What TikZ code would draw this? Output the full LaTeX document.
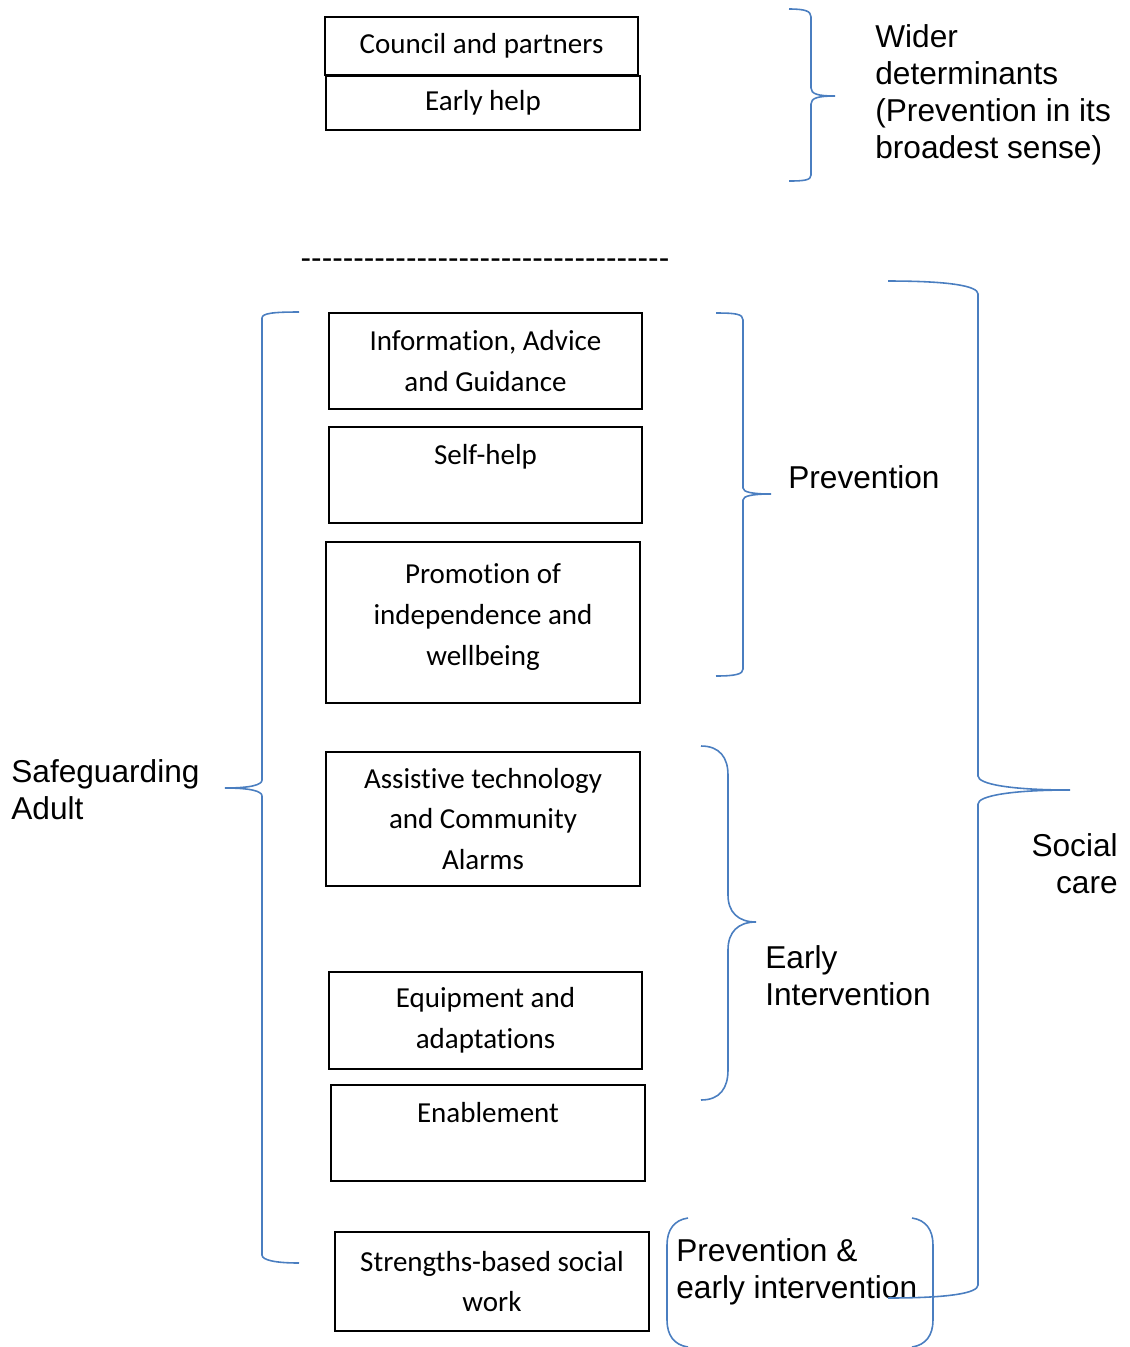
\documentclass[tikz,border=0pt]{standalone}
\usepackage{fontspec}
\setmainfont{Carlito}[Ligatures=NoCommon]
\newfontfamily\arialfont{Liberation Sans}
\usetikzlibrary{positioning}
\definecolor{braceblue}{HTML}{4A7EC0}

\begin{document}
\begin{tikzpicture}[x=0.02cm,y=-0.02cm,
    box/.style={draw=black,line width=1.1pt,align=center,inner sep=0pt,
        font=\fontsize{16.5}{23.2}\selectfont},
    lbl/.style={align=left,inner sep=0pt,font=\arialfont\fontsize{18}{21}\selectfont},
    brace/.style={draw=braceblue,line width=0.9pt}]
                \useasboundingbox (0,0) rectangle (1130,1347);
                % top boxes
                \node[box,minimum width=6.26cm,minimum height=1.16cm] (council) at (481.5,46) {Council and partners};
                \node[box,minimum width=6.28cm,minimum height=1.08cm,below=-0.02cm of council,xshift=0.03cm] (earlyhelp) {Early help};
                \node[lbl,anchor=west] (wider) at (875,95) {Wider\\determinants\\(Prevention in its\\broadest sense)};
                \node[inner sep=0pt,font=\arialfont\fontsize{18}{21}\selectfont] (dashes) at (485,264) {-----------------------------------};
                % main stack
                \node[box,minimum width=6.26cm,minimum height=1.92cm] (iag) at (485.5,361) {Information, Advice\\and Guidance};
                \node[box,minimum width=6.26cm,minimum height=1.92cm] (selfhelp) at (485.5,475) {Self-help\\~};
                \node[box,minimum width=6.28cm,minimum height=3.22cm] (promo) at (483,622.5) {Promotion of\\independence and\\wellbeing\\[-0.5cm]~};
                \node[box,minimum width=6.28cm,minimum height=2.68cm] (assist) at (483,819) {Assistive technology\\and Community\\Alarms};
                \node[box,minimum width=6.26cm,minimum height=1.94cm] (equip) at (485.5,1020.5) {Equipment and\\adaptations};
                \node[box,minimum width=6.28cm,minimum height=1.92cm] (enable) at (488,1133) {Enablement\\~};
                \node[box,minimum width=6.28cm,minimum height=1.98cm] (strengths) at (492,1281.5) {Strengths-based social\\work};
                % labels
                \node[lbl,anchor=west] (prev) at (788,477) {Prevention};
                \node[lbl,anchor=west] (early) at (765,976) {Early\\Intervention};
                \node[lbl,anchor=east,align=right] (social) at (1118,864) {Social\\care};
                \node[lbl,anchor=west] (safe) at (11,790) {Safeguarding\\Adult};
                \node[lbl,anchor=west] (prevearly) at (676,1272) {Prevention \&\\early intervention};
                % braces
                \draw[brace] (789,9) .. controls (805,9) and (811,11) .. (811,17) -- (811,88)
                    .. controls (811,94) and (818,96) .. (835,96) .. controls (818,96) and (811,98) .. (811,104)
                    -- (811,175) .. controls (811,180) and (805,181) .. (789,181);
                \draw[brace] (716,313) .. controls (736,313) and (743,314) .. (743,320) -- (743,488)
                    .. controls (743,492) and (752,494) .. (771,494) .. controls (752,494) and (743,496) .. (743,500)
                    -- (743,669) .. controls (743,674) and (736,676) .. (716,676);
                \draw[brace] (701,746) .. controls (720,746) and (728,758) .. (728,775) -- (728,895)
                    .. controls (728,912) and (738,922) .. (756,922) .. controls (738,922) and (728,932) .. (728,950)
                    -- (728,1070) .. controls (728,1088) and (720,1100) .. (701,1100);
                \draw[brace] (888,281) .. controls (950,281) and (978,286) .. (978,294) -- (978,776)
                    .. controls (978,784) and (1010,790) .. (1070,790) .. controls (1010,790) and (978,796) .. (978,804)
                    -- (978,1285) .. controls (978,1293) and (950,1298) .. (888,1298);
                \draw[brace] (299,312) .. controls (275,312) and (262,313) .. (262,318) -- (262,780)
                    .. controls (262,785) and (250,788) .. (225,788) .. controls (250,788) and (262,791) .. (262,796)
                    -- (262,1255) .. controls (262,1260) and (275,1263) .. (299,1263);
                \draw[brace] (688,1218) .. controls (674,1220) and (667,1230) .. (667,1245) -- (667,1320)
                    .. controls (667,1335) and (674,1345) .. (688,1347);
                \draw[brace] (912,1218) .. controls (926,1220) and (933,1230) .. (933,1245) -- (933,1320)
                    .. controls (933,1335) and (926,1345) .. (912,1347);
            \end{tikzpicture}
\end{document}
